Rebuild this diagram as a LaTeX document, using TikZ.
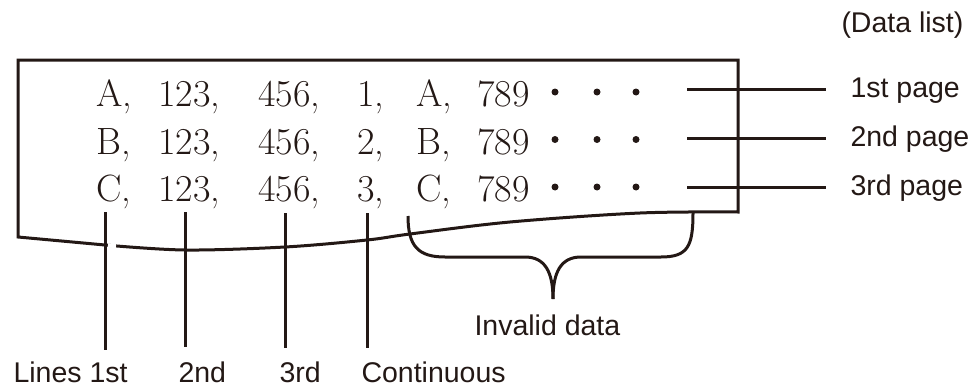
\documentclass[tikz,border=0pt]{standalone}
\usepackage{fontspec}
\setsansfont{Liberation Sans}
\definecolor{ink}{RGB}{35,24,21}
\begin{document}
\begin{tikzpicture}[x=1pt,y=-1pt,
  line width=3pt, ink,
  datatxt/.style={anchor=base west,inner sep=0pt,font=\fontsize{38}{38}\selectfont,text=ink},
  lbl/.style={anchor=base west,inner sep=0pt,font=\sffamily\fontsize{28.5}{28.5}\selectfont,text=ink},
  dotn/.style={circle,fill=ink,draw=none,inner sep=0pt,minimum size=7pt}]
\useasboundingbox (0,0) rectangle (975,388);
% box
\draw[line join=miter] plot[smooth,tension=0.55] coordinates {(738,212) (640,213) (510,222) (410,234) (367,240) (285,247) (185,250) (105,245)}
  -- (18,237) -- (18,60) -- (738,60) -- cycle;
\draw[white,line width=4pt] (108,245.4) -- (116,246.2);
% rows
\foreach \r/\b/\L/\n in {1/106.5/A/1, 2/154/B/2, 3/201.5/C/3}{
  \node[datatxt] (a\r) at (95,\b) {\L,};
  \node[datatxt] (b\r) at (157,\b) {123,};
  \node[datatxt] (c\r) at (257,\b) {456,};
  \node[datatxt] (d\r) at (356,\b) {\n,};
  \node[datatxt] (e\r) at (415,\b) {\L,};
  \node[datatxt] (f\r) at (476,\b) {789};
  \node[dotn] (g\r) at (555,\b-14.5) {};
  \node[dotn] (h\r) at (597,\b-14.5) {};
  \node[dotn] (i\r) at (636,\b-14.5) {};
}
% page lines
\foreach \r/\y/\t in {1/89/1st page, 2/138/2nd page, 3/187/3rd page}{
  \coordinate (p\r a) at (687,\y);
  \node[lbl] (pl\r) at (849,\y+8.5) {\t};
  \coordinate (p\r b) at (826,\y);
  \draw (p\r a) -- (p\r b);
}
\node[lbl] (dl) at (840,32) {(Data list)};
% vertical lines
\coordinate (v1t) at (105,212); \coordinate (v1b) at (105,350);
\coordinate (v2t) at (185,212); \coordinate (v2b) at (185,347);
\coordinate (v3t) at (285,213); \coordinate (v3b) at (285,348);
\coordinate (v4t) at (367,213); \coordinate (v4b) at (367,348);
\foreach \i in {1,2,3,4}{\draw (v\i t) -- (v\i b);}
\node[lbl] (l1) at (12,382) {Lines 1st};
\node[lbl] (l2) at (177,382) {2nd};
\node[lbl] (l3) at (278,382) {3rd};
\node[lbl] (l4) at (360,382) {Continuous};
% brace
\coordinate (bl) at (408,216);
\coordinate (bt) at (553,299);
\coordinate (br) at (693,213);
\draw (bl) .. controls (408,246) and (418,257) .. (445,257) -- (525,257)
  .. controls (545,257) and (553,272) .. (bt);
\draw (bt) .. controls (553,272) and (561,257) .. (581,257) -- (661,257)
  .. controls (688,257) and (693,246) .. (br);
\node[lbl] (inv) at (473,335) {Invalid data};
\end{tikzpicture}
\end{document}
